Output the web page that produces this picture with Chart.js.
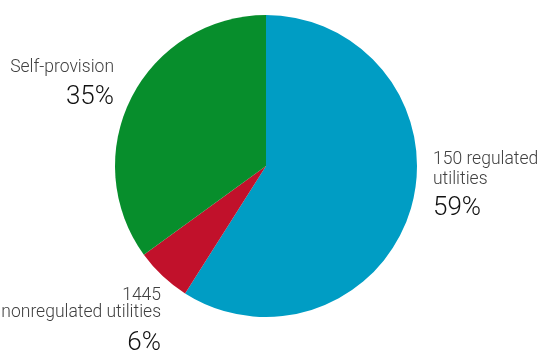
<!DOCTYPE html>
<html>
<head>
<meta charset="utf-8">
<script src="https://cdn.jsdelivr.net/npm/chart.js@4.4.1/dist/chart.umd.min.js"></script>
<style>
  html, body { margin: 0; padding: 0; background: #fff; }
  #wrap { width: 540px; height: 356px; position: relative; }
</style>
</head>
<body>
<div id="wrap"><canvas id="c" width="540" height="356"></canvas></div>
<script>
// Shares of customers served, by supplier type
const categories = ['150 regulated utilities', '1445 nonregulated utilities', 'Self-provision'];
const shares = [59, 6, 35];
const colors = ['#009dc4', '#c1112b', '#078e2c'];

// Label lines for each slice: name lines, then the share
const labelLines = [['150 regulated', 'utilities'], ['1445', 'nonregulated utilities'], ['Self-provision']];
const labelSpots = [
  { x: 433, y: 160, align: 'left',  gap: 20, pctGap: 28 },
  { x: 161, y: 296, align: 'right', gap: 17, pctGap: 30 },
  { x: 114, y: 68,  align: 'right', gap: 20, pctGap: 29 }
];

const sliceLabels = {
  id: 'sliceLabels',
  afterDraw(chart) {
    const ctx = chart.ctx;
    const vals = chart.data.datasets[0].data;
    ctx.save();
    ctx.textBaseline = 'middle';
    labelSpots.forEach((s, i) => {
      ctx.textAlign = s.align;
      ctx.fillStyle = '#404040';
      ctx.font = '300 17.5px Roboto';
      let y = s.y;
      labelLines[i].forEach((line, k) => {
        if (k > 0) y += s.gap;
        ctx.fillText(line, s.x, y);
      });
      y += s.pctGap;
      ctx.fillStyle = '#111';
      ctx.font = '300 26px Roboto';
      ctx.fillText(vals[i] + '%', s.x, y);
    });
    ctx.restore();
  }
};

new Chart(document.getElementById('c'), {
  type: 'pie',
  data: {
    labels: categories,
    datasets: [{
      data: shares,
      backgroundColor: colors,
      borderWidth: 0
    }]
  },
  options: {
    responsive: false,
    animation: false,
    layout: { padding: { top: 15, bottom: 39, left: 0, right: 8 } },
    plugins: {
      legend: { display: false },
      tooltip: { enabled: false }
    }
  },
  plugins: [sliceLabels]
});
</script>
</body>
</html>
